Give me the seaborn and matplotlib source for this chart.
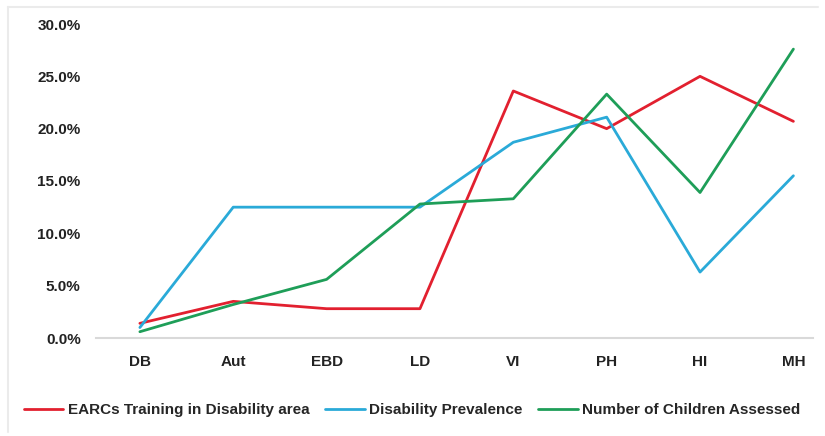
import matplotlib
matplotlib.use("Agg")
import matplotlib.pyplot as plt
from matplotlib.lines import Line2D
from matplotlib.ticker import FuncFormatter
import seaborn as sns
import pandas as pd

categories = ["DB", "Aut", "EBD", "LD", "VI", "PH", "HI", "MH"]
earcs_training = [1.4, 3.5, 2.8, 2.8, 23.6, 20.0, 25.0, 20.7]
disability_prevalence = [1.0, 12.5, 12.5, 12.5, 18.7, 21.1, 6.3, 15.5]
children_assessed = [0.6, 3.2, 5.6, 12.8, 13.3, 23.3, 13.9, 27.6]

series_names = ["EARCs Training in Disability area",
                "Disability Prevalence",
                "Number of Children Assessed"]
colors = ["#E2202F", "#2AAAD8", "#1E9E58"]

rows = []
for name, vals in zip(series_names, [earcs_training, disability_prevalence, children_assessed]):
    for i, (cat, v) in enumerate(zip(categories, vals)):
        rows.append({"pos": i, "category": cat, "value": v, "series": name})
df = pd.DataFrame(rows)

sns.set_theme(style="white")
plt.rcParams["font.family"] = ["Liberation Sans", "DejaVu Sans"]

fig = plt.figure(figsize=(8.25, 4.36), dpi=100)
ax = fig.add_axes([96 / 825, (436 - 338) / 436, (813 - 96) / 825, (338 - 24) / 436])

sns.lineplot(data=df, x="pos", y="value", hue="series", hue_order=series_names,
             palette=colors, sort=False, estimator=None, linewidth=2.0,
             legend=False, ax=ax)

ax.set_xlim(-0.47, 7.21)
ax.set_ylim(0, 30)
ax.set_yticks([0, 5, 10, 15, 20, 25, 30])
ax.yaxis.set_major_formatter(FuncFormatter(lambda v, p: f"{v:.1f}%"))
ax.set_xticks(range(len(categories)))
ax.set_xticklabels(categories)
ax.set_xlabel("")
ax.set_ylabel("")
for lab in ax.get_xticklabels() + ax.get_yticklabels():
    lab.set_fontweight("bold")
    lab.set_fontsize(11)
    lab.set_color("#222222")
ax.tick_params(axis="both", length=0)
ax.tick_params(axis="x", pad=12)
ax.tick_params(axis="y", pad=11)

for side in ["top", "right", "left"]:
    ax.spines[side].set_visible(False)
ax.spines["bottom"].set_color("#D9D9D9")
ax.spines["bottom"].set_linewidth(1.5)
ax.grid(False)

handles = [Line2D([0], [0], color=c, linewidth=2.0) for c in colors]
fig.legend(handles, series_names, loc="center", bbox_to_anchor=(412 / 825, 1 - 410 / 436),
           ncol=3, frameon=False, handlelength=2.6, handletextpad=0.3, columnspacing=1.0,
           prop={"weight": "bold", "size": 11})

# light frame around the chart area
fig.add_artist(Line2D([8 / 825, 8 / 825], [1 - 432 / 436, 1 - 7 / 436], color="#EBEBEB", linewidth=1.5))
fig.add_artist(Line2D([8 / 825, 818 / 825], [1 - 7 / 436, 1 - 7 / 436], color="#EBEBEB", linewidth=1.5))

fig.savefig("out.png", dpi=100)
